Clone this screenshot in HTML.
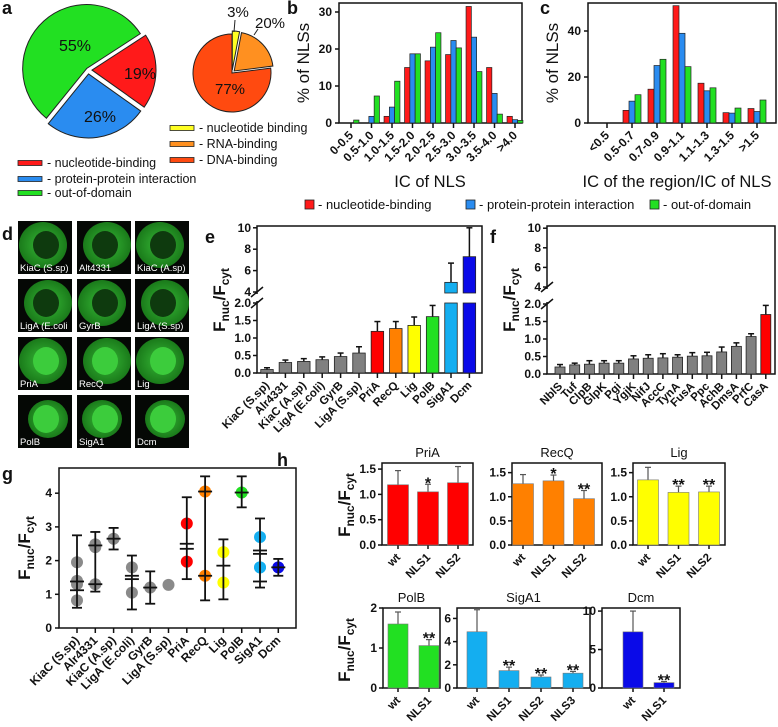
<!DOCTYPE html>
<html><head><meta charset="utf-8"><style>
html,body{margin:0;padding:0;background:#fff;width:778px;height:727px;overflow:hidden}
svg{display:block;font-family:"Liberation Sans",sans-serif}
.t{font-size:11px;font-weight:bold;fill:#111}
.ttl{font-size:14px;fill:#111}
.pl{font-size:18px;font-weight:bold;fill:#111}
.lg{font-size:12.5px;fill:#111}
</style></head><body>
<svg id="fig" width="778" height="727" viewBox="0 0 778 727" xmlns="http://www.w3.org/2000/svg">
<text class="pl" x="2" y="14">a</text>
<text class="pl" x="287" y="14">b</text>
<text class="pl" x="540" y="14">c</text>
<text class="pl" x="2" y="240">d</text>
<text class="pl" x="205" y="243">e</text>
<text class="pl" x="490" y="243">f</text>
<text class="pl" x="2" y="480">g</text>
<text class="pl" x="277" y="466">h</text>
<g id="layer"></g>
</svg>
<script>
// ---------- DATA ----------
const pieACats=["nucleotide-binding","protein-protein interaction","out-of-domain"];
const pieAVals=[19,26,55];
const pieBCats=["nucleotide binding","RNA-binding","DNA-binding"];
const pieBVals=[3,20,77];
const bCats=["0-0.5","0.5-1.0","1.0-1.5","1.5-2.0","2.0-2.5","2.5-3.0","3.0-3.5","3.5-4.0",">4.0"];
const bRed=[0,0,1.8,15,16.8,18.5,31.5,15,1.8];
const bBlue=[0,1.8,4.3,18.7,20.5,22.3,23.2,8,0.9];
const bGreen=[0.8,7.3,11.3,18.7,24.4,20.3,13.9,2.4,0.7];
const bTicks=[0,10,20,30];
const cCats=["<0.5","0.5-0.7","0.7-0.9","0.9-1.1","1.1-1.3","1.3-1.5",">1.5"];
const cRed=[0,5.5,14.7,51,17.3,4.5,6.3];
const cBlue=[0,9.5,25,39,14,4.3,5];
const cGreen=[0,12.3,27.7,24.5,15.3,6.5,10];
const cTicks=[0,20,40];
const dLabels=["KiaC (S.sp)","Alt4331","KiaC (A.sp)","LigA (E.coli","GyrB","LigA (S.sp)","PriA","RecQ","Lig","PolB","SigA1","Dcm"];
const eCats=["KiaC (S.sp)","Alr4331","KiaC (A.sp)","LigA (E.coli)","GyrB","LigA (S.sp)","PriA","RecQ","Lig","PolB","SigA1","Dcm"];
const eVals=[0.1,0.3,0.33,0.38,0.47,0.57,1.19,1.27,1.36,1.61,4.9,7.3];
const eErrs=[0.05,0.07,0.08,0.08,0.1,0.18,0.28,0.2,0.24,0.32,1.8,2.7];
const eColors=["#808080","#808080","#808080","#808080","#808080","#808080","#ff0000","#ff8000","#ffff00","#22e022","#14aef0","#0a0ae8"];
const fCats=["NblS","Tuf","ClpB","GlpK","Pgi","YgjK","NifJ","AccC","TynA","FusA","Ppc","AchB","DmsA","PrfC","CasA"];
const fVals=[0.2,0.26,0.28,0.31,0.31,0.43,0.45,0.46,0.48,0.51,0.52,0.63,0.79,1.07,1.7];
const fErrs=[0.07,0.05,0.1,0.07,0.07,0.09,0.1,0.12,0.07,0.1,0.1,0.14,0.1,0.08,0.26];
const lowTicks=[0,0.5,1,1.5,2];
const highTicks=[4,6,8,10];
const gCats=eCats;
const gDots=[[1.95,1.4,1.3,0.82],[2.48,2.4,1.3],[2.65],[1.8,1.05],[1.2],[1.28],[3.1,1.97],[4.05,1.55],[2.25,1.35],[4.02],[2.7,1.8,1.8],[1.8]];
const gMeans=[[1.12,1.38],[2.45,1.3],[2.65],[1.45,1.55],[1.2],[],[2.35,2.5],[4.05,1.55],[1.85],[4.02],[2.2,2.3,1.38],[1.8]];
const gLo=[0.6,1.08,2.33,0.55,0.72,null,1.45,0.82,0.85,3.58,1.2,1.55];
const gHi=[2.75,2.85,2.97,2.15,1.68,null,3.88,4.5,2.63,4.5,3.25,2.05];
const gTicks=[0,1,2,3,4];
const hPriA=[1.19,1.05,1.23], hPriAErr=[0.28,0.15,0.32], hPriAStar=["","*",""];
const hRecQ=[1.27,1.33,0.96], hRecQErr=[0.19,0.12,0.17], hRecQStar=["","*","**"];
const hLig=[1.35,1.09,1.10], hLigErr=[0.26,0.13,0.12], hLigStar=["","**","**"];
const hPolB=[1.6,1.06], hPolBErr=[0.3,0.15], hPolBStar=["","**"];
const hSigA=[4.85,1.5,0.95,1.28], hSigAErr=[1.9,0.3,0.17,0.15], hSigAStar=["","**","**","**"];
const hDcm=[7.3,0.7], hDcmErr=[2.7,0.15], hDcmStar=["","**"];
const h3Cats=["wt","NLS1","NLS2"], h2Cats=["wt","NLS1"], h4Cats=["wt","NLS1","NLS2","NLS3"];

// ---------- HELPERS ----------
const NS="http://www.w3.org/2000/svg";
const L=document.getElementById('layer');
function mk(tag,attrs,parent){const e=document.createElementNS(NS,tag);for(const k in attrs)e.setAttribute(k,attrs[k]);(parent||L).appendChild(e);return e;}
function line(x1,y1,x2,y2,w,c){const e=mk('line',{x1:x1,y1:y1,x2:x2,y2:y2,stroke:c||'#111','stroke-width':w||1.5});

return e;}
function txt(x,y,s,cls,anchor,rot){const e=mk('text',{x:x,y:y,class:cls||'t','text-anchor':anchor||'middle'});e.textContent=s;if(rot!==undefined)e.setAttribute('transform','rotate('+rot+' '+x+' '+y+')');return e;}
function fLabel(x,y,size,name){const e=mk('text',{x:x,y:y,'text-anchor':'middle',transform:'rotate(-90 '+x+' '+y+')',style:'font-size:'+size+'px;font-weight:bold;fill:#111'});


e.innerHTML='F<tspan dy="4" style="font-size:'+(size*0.7)+'px">nuc</tspan><tspan dy="-4">/F</tspan><tspan dy="4" style="font-size:'+(size*0.7)+'px">cyt</tspan>';return e;}
function frame(x0,yT,x1,yB,name){const r=mk('rect',{x:x0,y:yT,width:x1-x0,height:yB-yT,fill:'none',stroke:'#111','stroke-width':1.5});

}

// ---------- PIES ----------
function pie(cx,cy,r,vals,colors,start,explode,names){let a=start;vals.forEach((v,i)=>{const sw=v/100*2*Math.PI;const mid=a+sw/2;const ox=Math.cos(mid)*explode[i],oy=Math.sin(mid)*explode[i];
const x1=cx+ox+r*Math.cos(a),y1=cy+oy+r*Math.sin(a),x2=cx+ox+r*Math.cos(a+sw),y2=cy+oy+r*Math.sin(a+sw);
const p=mk('path',{d:`M${cx+ox},${cy+oy}L${x1},${y1}A${r},${r} 0 ${sw>Math.PI?1:0} 1 ${x2},${y2}Z`,fill:colors[i],stroke:'#222','stroke-width':1});


a+=sw;});}
pie(88,70,64,pieAVals,["#ff1a1a","#2a8cf0","#22e022"],-33/180*Math.PI,[4,4,2],["pie-slice-nucleotide","pie-slice-protein","pie-slice-out-of-domain"]);
[["55%",75,51],["19%",140,79],["26%",100,122]].forEach(a=>{const t=txt(a[1],a[2],a[0],"ttl");t.style.fontSize='16px';});
pie(232,73,39,pieBVals,["#ffff22","#ff9020","#ff4a10"],-Math.PI/2,[3,3,0],["pie-slice-nucleotide-small","pie-slice-rna","pie-slice-dna"]);
[["3%",238,17],["20%",270,28],["77%",230,94]].forEach(a=>{const t=txt(a[1],a[2],a[0],"ttl");t.style.fontSize='15px';});
line(235,20,234,32,1,'#222');line(258,29,254,35,1,'#222');
function legend(x,y,col,label,name){const r=mk('rect',{x:x,y:y-2.5,width:24,height:5,fill:col,stroke:'#222','stroke-width':0.8});


const t=txt(x+29,y+4,'- '+label,'lg','start');

}
pieACats.forEach((c,i)=>legend(18,[163,179,193][i],["#ff1a1a","#2a8cf0","#22e022"][i],c,'legend-a-'+i));
pieBCats.forEach((c,i)=>legend(170,[128,144,160][i],["#ffff22","#ff9020","#ff4a10"][i],c,'legend-a2-'+i));

// ---------- HISTOGRAMS b, c ----------
function grouped(x0,x1,yT,y0,first,step,bw,scale,cats,series,ticks,title,titleX,name){
 frame(x0,yT,x1,y0,name+'-frame');
 ticks.forEach(t=>{const y=y0-t*scale;line(x0-4,y,x0,y,1.5);const l=txt(x0-7,y+4,String(t),'t','end');l.style.fontSize='12px';});
 cats.forEach((c,i)=>{const cx=first+i*step;line(cx,y0,cx,y0+5,1.5);const l=txt(cx+3,y0+13,c,'t','end',-45);
 l.style.fontSize='12px';
 
 
 series.forEach((s,j)=>{const v=s.v[i];if(v<=0)return;const b=mk('rect',{x:cx-bw*1.5+j*bw,y:y0-v*scale,width:bw,height:v*scale,fill:s.c,stroke:'#222','stroke-width':0.7});
 
 });});
 const yl=txt(x0-30,(yT+y0)/2,"% of NLSs","ttl",'middle',-90);yl.style.fontSize='17px';
 const xt=txt(titleX,187,title,"ttl");xt.style.fontSize='16.5px';
}
grouped(339,522,3,123,351,20.5,5.3,3.7,bCats,[{v:bRed,c:"#ff1a1a"},{v:bBlue,c:"#2a8cf0"},{v:bGreen,c:"#22e022"}],bTicks,"IC of NLS",430,'hist-b');
grouped(588,776,3,123,607,25,6,2.3,cCats,[{v:cRed,c:"#ff1a1a"},{v:cBlue,c:"#2a8cf0"},{v:cGreen,c:"#22e022"}],cTicks,"IC of the region/IC of NLS",677,'hist-c');
[["nucleotide-binding","#ff1a1a",305],["protein-protein interaction","#2a8cf0",466],["out-of-domain","#22e022",650]].forEach((l,i)=>{
 const r=mk('rect',{x:l[2],y:200,width:9,height:9,fill:l[1],stroke:'#222','stroke-width':0.8});
 
 
 const t=txt(l[2]+13,209,'- '+l[0],'lg','start');t.style.fontSize='13px';});

// ---------- MICROSCOPY d ----------
const defs=mk('defs',{},document.getElementById('fig'));
const g1=mk('radialGradient',{id:'cellg'},defs);mk('stop',{offset:'0','stop-color':'#36b836'},g1);mk('stop',{offset:'1','stop-color':'#1a7a1a'},g1);
dLabels.forEach((lab,i)=>{const c=i%3,r=Math.floor(i/3);const x=[18,77,135][c],y=221+r*58;
 const bg=mk('rect',{x:x,y:y,width:54,height:53,fill:'#050805'});
 
 
 mk('ellipse',{cx:x+27+(i%2?3:-2),cy:y+24,rx:i>=9?20:24,ry:i>=9?19:23,fill:'url(#cellg)'});
 mk('ellipse',{cx:x+28,cy:y+24,rx:13,ry:14,fill:i<6?'#0e3a0e':'#3ccc3c'});
 const t=txt(x+2,y+50,lab,'t','start');t.style.fill='#fff';t.style.fontWeight='normal';t.style.fontSize='9.5px';});

// ---------- BROKEN AXIS BARS e, f ----------
function broken(x0,x1,yT,y0,y2,y4,lowS,highS,first,step,bw,cats,vals,errs,colors,name){
 frame(x0,yT,x1,y0,name+'-frame');
 const ym=v=>v<=2?y0-v*lowS:y4-(v-4)*highS;
 mk('rect',{x:x0-3,y:y4+2,width:6,height:y2-y4-4,fill:'#fff'});
 line(x0-6,y2+5,x0+6,y2-5,1.5);line(x0-6,y4+5,x0+6,y4-5,1.5);
 lowTicks.forEach(t=>{const y=ym(t);line(x0-4,y,x0,y,1.5);const l=txt(x0-6,y+4,t.toFixed(1),'t','end');l.style.fontSize='12px';});
 highTicks.forEach(t=>{const y=ym(t);line(x0-4,y,x0,y,1.5);const l=txt(x0-6,y+4,String(t),'t','end');l.style.fontSize='12px';});
 cats.forEach((c,i)=>{const cx=first+i*step,v=vals[i];
  line(cx,y0,cx,y0+5,1.5);
  const l=txt(cx+3,y0+13,c,'t','end',-45);
  l.style.fontSize='11.5px';
  
  
  const top=ym(v+errs[i]);line(cx,ym(v),cx,top,1.5);line(cx-3,top,cx+3,top,1.5);
  if(v<=2){const b=mk('rect',{x:cx-bw/2,y:ym(v),width:bw,height:y0-ym(v),fill:colors[i],stroke:'#222','stroke-width':0.8});
   
   }
  else{const b=mk('rect',{x:cx-bw/2,y:y2,width:bw,height:y0-y2,fill:colors[i],stroke:'#222','stroke-width':0.8});
   
   
   const b2=mk('rect',{x:cx-bw/2,y:ym(v),width:bw,height:y4+1-ym(v),fill:colors[i],stroke:'#222','stroke-width':0.8});
   
   }
 });
}
broken(257,482,226,373,303,292,35,10.7,267,18.4,12.5,eCats,eVals,eErrs,eColors,'bar-e');
fLabel(225,300,17,'y-axis-title-e');
broken(547,775,226,374,304,287,35,9.8,560,14.7,10,fCats,fVals,fErrs,fCats.map((c,i)=>i==14?"#ff0000":"#808080"),'bar-f');
fLabel(515,300,17,'y-axis-title-f');

// ---------- DOT PLOT g ----------
(function(){const x0=59,x1=296,yT=468,y0=628,s=33.7,first=77,step=18.3;
 frame(x0,yT,x1,y0,'dot-g-frame');
 const ym=v=>y0-v*s;
 gTicks.forEach(t=>{line(x0-4,ym(t),x0,ym(t),1.5);const l=txt(x0-7,ym(t)+4,String(t),'t','end');l.style.fontSize='12px';});
 gCats.forEach((c,i)=>{const cx=first+i*step;line(cx,y0,cx,y0+5,1.5);
  const l=txt(cx+3,y0+13,c,'t','end',-45);
  l.style.fontSize='12px';
  
  
  const col=eColors[i]=="#808080"?"#8a8a8a":eColors[i];
  gDots[i].forEach(v=>{const d=mk('circle',{cx:cx,cy:ym(v),r:6,fill:col});
   
   });
  if(gLo[i]!==null){line(cx,ym(gLo[i]),cx,ym(gHi[i]),1.8);line(cx-5,ym(gLo[i]),cx+5,ym(gLo[i]),1.8);line(cx-5,ym(gHi[i]),cx+5,ym(gHi[i]),1.8);}
  gMeans[i].forEach(m=>line(cx-7,ym(m),cx+7,ym(m),1.8));
 });
 fLabel(30,548,17,'y-axis-title-g');
})();

// ---------- SMALL BARS h ----------
function small(x0,x1,yT,y0,vmax,ticks,fmt,first,step,bw,cats,vals,errs,stars,color,title,name){
 frame(x0,yT,x1,y0,name+'-frame');
 const s=(y0-yT)/vmax,ym=v=>y0-v*s;
 ticks.forEach(t=>{line(x0-4,ym(t),x0,ym(t),1.5);const l=txt(x0-6,ym(t)+4,fmt(t),'t','end');l.style.fontSize='12px';});
 const tt=txt((x0+x1)/2,yT-6,title,'ttl');tt.style.fontSize='13px';
 cats.forEach((c,i)=>{const cx=first+i*step,v=vals[i];
  line(cx,y0,cx,y0+4,1.5);
  const l=txt(cx+3,y0+13,c,'t','end',-45);
  l.style.fontSize='11.5px';
  
  
  const top=ym(v+errs[i]);line(cx,ym(v),cx,top,1.2,'#555');line(cx-3,top,cx+3,top,1.2,'#555');
  const b=mk('rect',{x:cx-bw/2,y:ym(v),width:bw,height:y0-ym(v),fill:color,stroke:'#777','stroke-width':0.6});
  
  
  if(stars[i]){const st=txt(cx,top-2,stars[i],'t');st.style.fontSize='16px';st.setAttribute('dy','6');}
 });
}
const f1=t=>t.toFixed(1),f0=t=>String(t);
small(382,473,463,545,1.62,[0,0.5,1,1.5],f1,398,30,21,h3Cats,hPriA,hPriAErr,hPriAStar,"#ff0000","PriA",'bar-h-pria');
small(512,602,463,545,1.7,[0,0.5,1,1.5],f1,523,30.5,21,h3Cats,hRecQ,hRecQErr,hRecQStar,"#ff8000","RecQ",'bar-h-recq');
small(633,725,463,545,1.7,[0,0.5,1,1.5],f1,648,30.5,21,h3Cats,hLig,hLigErr,hLigStar,"#ffff00","Lig",'bar-h-lig');
small(383,440,608,688,2,[0,1,2],f0,398,31,20,h2Cats,hPolB,hPolBErr,hPolBStar,"#22e022","PolB",'bar-h-polb');
small(457,590,608,688,6.9,[0,2,4,6],f0,477,32,20,h4Cats,hSigA,hSigAErr,hSigAStar,"#14aef0","SigA1",'bar-h-siga1');
small(602,680,608,688,10.4,[0,5,10],f0,633,31,20,h2Cats,hDcm,hDcmErr,hDcmStar,"#0a0ae8","Dcm",'bar-h-dcm');
fLabel(350,505,17,'y-axis-title-h-top');
fLabel(350,650,17,'y-axis-title-h-bottom');
</script>
</body></html>
